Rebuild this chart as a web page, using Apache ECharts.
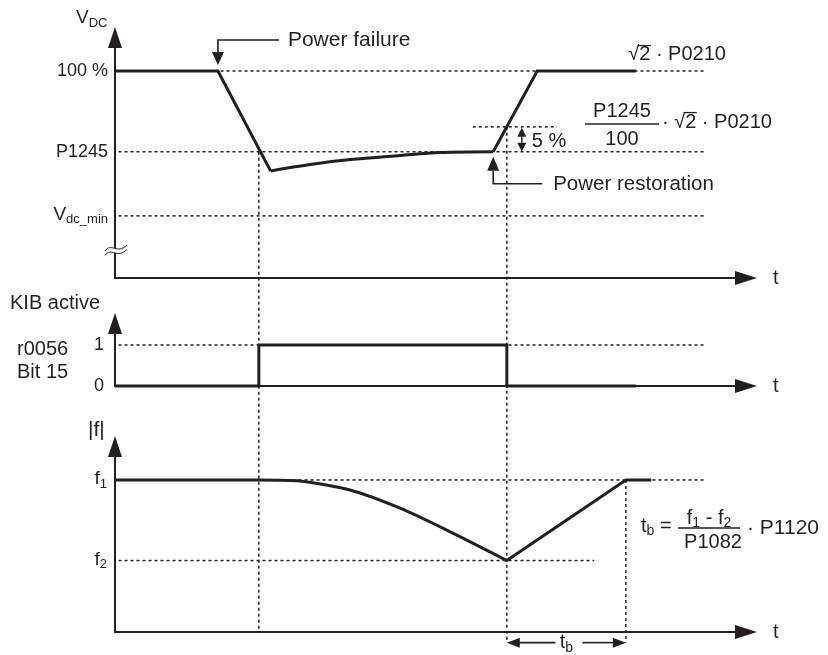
<!DOCTYPE html>
<html><head><meta charset="utf-8">
<script src="https://cdn.jsdelivr.net/npm/echarts@6/dist/echarts.min.js"></script>
<style>html,body{margin:0;padding:0;background:#fff}#c{width:828px;height:655px}</style>
</head><body><div id="c"></div>
<script>
// ---------------- data ----------------
// time in arbitrary units: 0 ... 100 along each t axis
const vdcTime  = [0, 16.6, 25.1, 31.5, 37.9, 46.0, 52.4, 61.0, 68.1, 84.0];
const vdcValue = [100, 100, 51.7, 54.8, 57.2, 59.2, 60.6, 61, 100, 100];
const vdcLevels = [100, 61, 30];                 // 100 %, P1245, Vdc_min
const vdcLevelLabels = ['100 %', 'P1245', '{m|V}{s|dc_min}{p|\u200b}'];
const restoreLevel = 73;                          // P1245 + 5 %
const kibTime  = [0, 23.2, 23.2, 63.2, 63.2, 84.0];
const kibValue = [0, 0, 1, 1, 0, 0];
const kibLevels = [1, 0];
const kibLevelLabels = ['1', '0'];
const fTime  = [0, 23.2, 29.8, 37.9, 46.0, 54.0, 63.2, 82.4, 86.5];
const fValue = [100, 100, 99.3, 93.4, 81.4, 66.0, 47, 100, 100];
const fLevels = [100, 47];                        // f1, f2
const fLevelLabels = ['{m|f}{s|1}{p|\u200b}', '{m|f}{s|2}{p|\u200b}'];
const events = {fail: 16.6, kib: 23.2, restore: 61.0, restored: 63.2, full: 68.1, recovered: 82.4};
const refEnd = 95.3, restoreRefStart = 57.7, restoreRefEnd = 71.3, f2RefEnd = 77.3, f1RefEnd = 95.0;

// ---------------- style ----------------
const INK = '#231f20';
const FONT = '"Liberation Sans", Arial, Helvetica, sans-serif';
const RICH = {
  m: {fontSize: 19, lineHeight: 19, verticalAlign: 'top', color: INK, fontFamily: FONT},
  s: {fontSize: 13, lineHeight: 13, verticalAlign: 'bottom', color: INK, fontFamily: FONT},
  p: {fontSize: 1, lineHeight: 21}
};
const grids = [
  {left: 115, right: 93, top: 48, height: 230},
  {left: 115, right: 93, top: 334, height: 52},
  {left: 115, right: 93, top: 457, height: 175}
];
const yMax = [111.1, 1.268, 115.1];

function xAx(i) {
  return {gridIndex: i, type: 'value', min: 0, max: 100,
    axisLine: {show: true, onZero: false, symbol: ['none', 'triangle'], symbolSize: [14, 22], symbolOffset: [0, 11],
      lineStyle: {color: INK, width: 2}},
    axisTick: {show: false}, axisLabel: {show: false}, splitLine: {show: false},
    name: 't', nameLocation: 'end', nameGap: 38,
    nameTextStyle: {fontSize: 20, color: INK, fontFamily: FONT, verticalAlign: 'middle'}};
}
function yAx(i, values, labels, margin) {
  return {gridIndex: i, type: 'value', min: 0, max: yMax[i],
    axisLine: {show: true, onZero: false, symbol: ['none', 'triangle'], symbolSize: [14, 21], symbolOffset: [0, 10.5],
      lineStyle: {color: INK, width: 2}},
    axisTick: {show: false}, splitLine: {show: false},
    axisLabel: {customValues: values, formatter: v => labels[values.indexOf(v)], margin: margin,
      color: INK, fontSize: 18, fontFamily: FONT, rich: RICH}};
}

const series = [];
function ref(g, y, x0, x1) {
  series.push({type: 'line', xAxisIndex: g, yAxisIndex: g, data: [[x0, y], [x1, y]], symbol: 'none',
    clip: false, silent: true, z: 1, lineStyle: {color: INK, width: 1.5, type: [3, 3]}});
}
function solid(g, data, smooth) {
  series.push({type: 'line', xAxisIndex: g, yAxisIndex: g, data: data, symbol: 'none', clip: false,
    smooth: smooth || false, z: 3, lineStyle: {color: INK, width: 3, join: 'miter'}});
}
const zip = (a, b) => a.map((t, i) => [t, b[i]]);

// reference (dotted) levels
vdcLevels.forEach(v => ref(0, v, -0.4, refEnd));
ref(0, restoreLevel, restoreRefStart, restoreRefEnd);
ref(1, kibLevels[0], -0.4, refEnd);
ref(2, fLevels[0], -0.4, f1RefEnd);
ref(2, fLevels[1], -0.4, f2RefEnd);
// signals
const vPts = zip(vdcTime, vdcValue);
solid(0, vPts.slice(0, 3));
solid(0, vPts.slice(2, 8), 0.35);
solid(0, vPts.slice(7));
solid(1, zip(kibTime, kibValue));
const fPts = zip(fTime, fValue);
solid(2, fPts.slice(0, 2));
solid(2, fPts.slice(1, 7), 0.25);
solid(2, fPts.slice(6));

const chart = echarts.init(document.getElementById('c'));
chart.setOption({
  animation: false,
  backgroundColor: '#fff',
  textStyle: {fontFamily: FONT, color: INK},
  grid: grids,
  xAxis: [xAx(0), xAx(1), xAx(2)],
  yAxis: [yAx(0, vdcLevels, vdcLevelLabels, 7), yAx(1, kibLevels, kibLevelLabels, 11), yAx(2, fLevels, fLevelLabels, 8)],
  series: series
});

// ---------------- annotations ----------------
const px = (g, x, y) => chart.convertToPixel({gridIndex: g}, [x, y]);
const cv = document.createElement('canvas').getContext('2d');
const tw = (t, s) => { cv.font = s + 'px ' + FONT; return cv.measureText(t).width; };
const els = [];
const dotStyle = {stroke: INK, lineWidth: 1.5, lineDash: [3, 3], fill: null};
function line(a, b, style, z) { els.push({type: 'line', silent: true, z: z || 5, shape: {x1: a[0], y1: a[1], x2: b[0], y2: b[1]}, style: style}); }
function poly(points, fill, z) { els.push({type: 'polygon', silent: true, z: z || 6, shape: {points: points}, style: {fill: fill || INK, stroke: null}}); }
function pline(points, w) { els.push({type: 'polyline', silent: true, z: 6, shape: {points: points}, style: {stroke: INK, lineWidth: w || 1.6, fill: null}}); }
function text(x, y, str, size, align, rich) {
  els.push({type: 'text', silent: true, z: 10, x: x, y: y,
    style: {text: str, fill: INK, fontSize: size, fontFamily: FONT, align: align || 'left', verticalAlign: 'middle', rich: rich}});
}
function arrowHead(tip, dir, len, half) {
  const [x, y] = tip;
  if (dir === 'down') poly([[x - half, y - len], [x + half, y - len], [x, y]]);
  if (dir === 'up') poly([[x - half, y + len], [x + half, y + len], [x, y]]);
  if (dir === 'left') poly([[x + len, y - half], [x + len, y + half], [x, y]]);
  if (dir === 'right') poly([[x - len, y - half], [x - len, y + half], [x, y]]);
}
const R20 = {m: Object.assign({}, RICH.m, {fontSize: 20, lineHeight: 20}),
             s: Object.assign({}, RICH.s, {fontSize: 14, lineHeight: 14}), p: {fontSize: 1, lineHeight: 22}};

// vertical dotted guides across the panels
line(px(0, events.kib, vdcLevels[1]), px(2, events.kib, 0), dotStyle, 1);
line(px(0, events.restored, restoreLevel), px(2, events.restored, -7), dotStyle, 1);
line(px(2, events.recovered, fLevels[0]), px(2, events.recovered, -7), dotStyle, 1);

// axis break mark on the V_DC axis
(function () {
  const c = px(0, 0, 14.5);
  const bz = (t, p0, p1, p2, p3) => {
    const u = 1 - t;
    return u * u * u * p0 + 3 * u * u * t * p1 + 3 * u * t * t * p2 + t * t * t * p3;
  };
  const A = [[-10, 3], [-4, -6], [2, 7], [12, -3]];
  const off = 4.5;
  const ptsA = [], ptsB = [];
  for (let i = 0; i <= 16; i++) {
    const t = i / 16;
    const x = c[0] + bz(t, A[0][0], A[1][0], A[2][0], A[3][0]);
    const y = c[1] + bz(t, A[0][1], A[1][1], A[2][1], A[3][1]);
    ptsA.push([x, y]); ptsB.push([x, y + off]);
  }
  poly(ptsA.concat(ptsB.slice().reverse()), '#fff', 7);
  els.push({type: 'polyline', silent: true, z: 8, shape: {points: ptsA}, style: {stroke: INK, lineWidth: 1, fill: null}});
  els.push({type: 'polyline', silent: true, z: 8, shape: {points: ptsB}, style: {stroke: INK, lineWidth: 1, fill: null}});
})();

// titles of the panels
const top0 = px(0, 0, yMax[0]), top2 = px(2, 0, yMax[2]);
text(top0[0] - 39, 19, '{m|V}{s|DC}{p|\u200b}', 19, 'left', RICH);
text(10, 303, 'KIB active', 20);
text(17, px(1, 0, 1)[1] + 4, 'r0056', 20);
text(17, px(1, 0, 1)[1] + 27, 'Bit 15', 20);
text(top2[0] - 27, 430, '|f|', 21);

// power failure pointer
(function () {
  const p = px(0, events.fail, 100);
  const yH = p[1] - 31;
  pline([[p[0] + 61, yH], [p[0], yH], [p[0], p[1] - 19]]);
  arrowHead([p[0], p[1] - 6], 'down', 13, 6);
  text(p[0] + 70, yH, 'Power failure', 21);
})();

// power restoration pointer
(function () {
  const p = px(0, events.restore, vdcLevels[1]);
  const yH = p[1] + 32;
  arrowHead([p[0], p[1] + 5], 'up', 14, 6);
  pline([[p[0], p[1] + 19], [p[0], yH], [p[0] + 49, yH]]);
  text(p[0] + 60, yH + 1, 'Power restoration', 20.5);
})();

// 5 % arrow
(function () {
  const a = px(0, events.restored, restoreLevel), b = px(0, events.restored, vdcLevels[1]);
  const x = a[0] + 15;
  arrowHead([x, a[1] + 1], 'up', 9, 4.5);
  arrowHead([x, b[1]], 'down', 9, 4.5);
  line([x, a[1] + 9], [x, b[1] - 9], {stroke: INK, lineWidth: 1.5});
  text(x + 10, (a[1] + b[1]) / 2 + 2, '5 %', 20);
})();

// sqrt(2)*P0210 labels
function sqrtLabel(x, y, prefix, size) {
  const s = prefix + '\u221A2 \u00B7 P0210';
  text(x, y, s, size);
  const w0 = tw(prefix + '\u221A', size), w1 = tw(prefix + '\u221A2', size);
  line([x + w0 - 1.5, y - size * 0.47], [x + w1 + 0.5, y - size * 0.47], {stroke: INK, lineWidth: 1.3});
}
(function () {
  const p = px(0, events.full, 100);
  sqrtLabel(p[0] + 91, p[1] - 16, '', 20);
  const cx = 622, barY = 124;
  text(cx, barY - 13, 'P1245', 20, 'center');
  text(cx, barY + 15, '100', 20, 'center');
  line([cx - 37, barY], [cx + 37, barY], {stroke: INK, lineWidth: 1.3});
  sqrtLabel(cx + 40, barY - 2, '\u00B7 ', 20);
})();

// t_b formula
(function () {
  const barY = 528, cx = 709;
  text(641, barY - 1, '{m|t}{s|b}{m| =}{p|\u200b}', 20, 'left', R20);
  text(cx, barY - 9, '{m|f}{s|1}{m| - f}{s|2}{p|\u200b}', 20, 'center', R20);
  line([cx - 31, barY], [cx + 31, barY], {stroke: INK, lineWidth: 1.3});
  text(cx + 4, barY + 14, 'P1082', 20, 'center');
  text(cx + 38, barY, '\u00B7 P1120', 21);
})();

// t_b dimension arrow
(function () {
  const a = px(2, events.restored, -7), b = px(2, events.recovered, -7);
  const y = a[1], mid = (a[0] + b[0]) / 2;
  arrowHead([a[0], y], 'left', 13, 5);
  arrowHead([b[0], y], 'right', 13, 5);
  line([a[0] + 12, y], [mid - 11, y], {stroke: INK, lineWidth: 1.6});
  line([mid + 16, y], [b[0] - 12, y], {stroke: INK, lineWidth: 1.6});
  text(mid, y + 1, '{m|t}{s|b}{p|\u200b}', 20, 'center', R20);
})();

chart.setOption({graphic: {elements: els}});
</script>
</body></html>
